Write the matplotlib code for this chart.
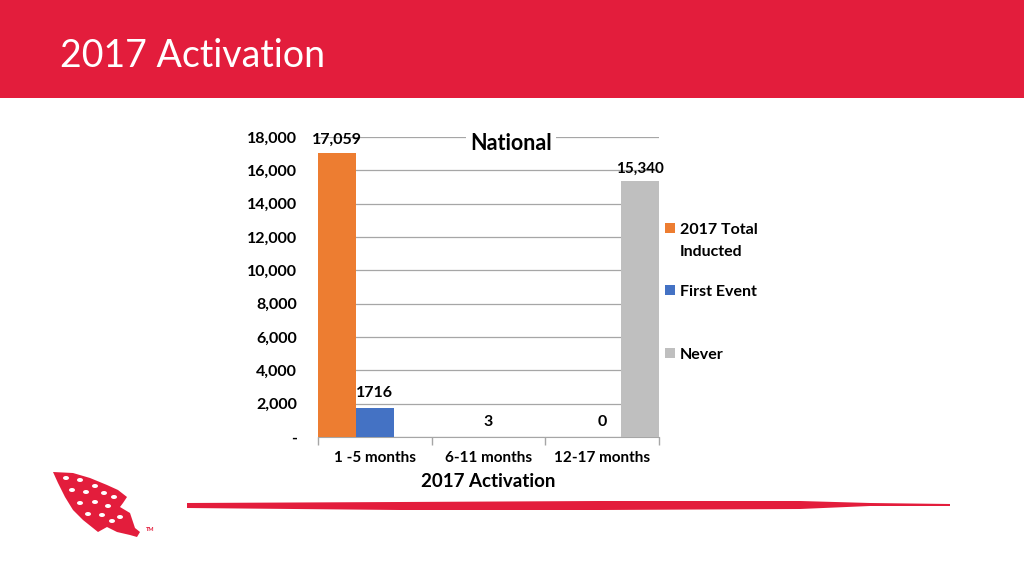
import matplotlib
matplotlib.use("Agg")
import matplotlib.pyplot as plt
from matplotlib.patches import Rectangle, Polygon, Ellipse
import numpy as np

plt.rcParams['font.family'] = ['Lato', 'DejaVu Sans']

categories = ["1 -5 months", "6-11 months", "12-17 months"]
series_names = ["2017 Total\nInducted", "First Event", "Never"]
total_inducted = [17059, 0, 0]
first_event = [1716, 3, 0]
never = [0, 0, 15340]
total_labels = ["17,059", "", ""]
first_labels = ["1716", "3", "0"]
never_labels = ["", "", "15,340"]
yticks = [0, 2000, 4000, 6000, 8000, 10000, 12000, 14000, 16000, 18000]
ytick_labels = ["-", "2,000", "4,000", "6,000", "8,000", "10,000", "12,000",
                "14,000", "16,000", "18,000"]

RED = "#E31D3C"
colors = ["#ED7D31", "#4472C4", "#BFBFBF"]

W, H = 1024, 576
fig = plt.figure(figsize=(W / 100, H / 100), dpi=100)

def px(x, y):
    # pixel coords (top-left origin) -> figure fraction
    return (x / W, 1 - y / H)

# header band
fig.patches.append(Rectangle((0, 1 - 98 / H), 1, 98 / H, transform=fig.transFigure,
                             facecolor=RED, edgecolor="none", zorder=0))
fig.text(60 / W, 1 - 56 / H, "2017 Activation", color="white", fontsize=27,
         ha="left", va="center")

# bottom brush stripe
stripe = [(187, 503), (400, 502), (600, 501), (800, 501), (870, 503), (950, 504),
          (950, 506), (870, 506), (800, 509), (600, 510), (400, 510), (187, 508)]
fig.patches.append(Polygon([px(x, y) for x, y in stripe], closed=True,
                           transform=fig.transFigure, facecolor=RED, edgecolor="none"))

# arrowhead logo (rough)
logo = [(53, 472), (73, 473), (90, 478), (107, 485), (118, 490), (127, 497),
        (123, 503), (120, 507), (125, 510), (130, 513), (135, 528), (140, 532),
        (137, 537), (130, 535), (117, 532), (107, 527), (98, 532), (93, 528),
        (83, 520), (73, 510), (65, 497), (58, 483)]
fig.patches.append(Polygon([px(x, y) for x, y in logo], closed=True,
                           transform=fig.transFigure, facecolor=RED, edgecolor="none"))
dots = [(66, 478), (80, 480), (95, 486), (72, 490), (86, 492), (104, 493),
        (114, 497), (80, 503), (95, 502), (108, 506), (88, 514), (102, 515),
        (112, 521), (120, 517)]
for x, y in dots:
    fig.patches.append(Ellipse(px(x, y), 6 / W, 4 / H, transform=fig.transFigure,
                               facecolor="white", edgecolor="none"))
fig.text(146 / W, 1 - 531 / H, "TM", fontsize=4, color=RED, fontweight="bold")

# chart
ax = fig.add_axes([318 / W, 1 - 437 / H, 341 / W, 300 / H])
x = np.arange(len(categories))
w = 1 / 3
b1 = ax.bar(x - w, total_inducted, w, color=colors[0], zorder=3)
b2 = ax.bar(x, first_event, w, color=colors[1], zorder=3)
b3 = ax.bar(x + w, never, w, color=colors[2], zorder=3)

ax.bar_label(b1, labels=total_labels, padding=4, fontsize=11.5, fontweight="bold")
ax.bar_label(b2, labels=first_labels, padding=6, fontsize=11.5, fontweight="bold")
ax.bar_label(b3, labels=never_labels, padding=4, fontsize=11, fontweight="bold")

ax.set_xlim(-0.5, 2.5)
ax.set_ylim(0, 18000)
ax.set_yticks(yticks)
ax.set_yticklabels(ytick_labels, fontsize=11.5, fontweight="bold")
ax.set_xticks(x)
ax.set_xticklabels(categories, fontsize=11, fontweight="bold")
ax.set_xticks([-0.5, 0.5, 1.5, 2.5], minor=True)
ax.tick_params(axis="x", which="major", length=0, pad=10)
ax.tick_params(axis="x", which="minor", length=6, color="#A6A6A6", width=1)
ax.tick_params(axis="y", length=0, pad=15)
ax.grid(axis="y", color="#A6A6A6", linewidth=0.9, zorder=0)
for s in ["top", "right", "left"]:
    ax.spines[s].set_visible(False)
ax.spines["bottom"].set_color("#A6A6A6")
ax.set_xlabel("2017 Activation", fontsize=13.5, fontweight="bold", labelpad=5.5)

fig.text(511 / W, 1 - 143 / H, "National", fontsize=15.5, fontweight="bold",
         ha="center", va="center",
         bbox=dict(facecolor="white", edgecolor="none", pad=3))

# legend, laid out like the slide's
legend_y = [228, 290, 353]
for name, c, y in zip(series_names, colors, legend_y):
    fig.patches.append(Rectangle(px(665, y + 5), 10 / W, 10 / H, transform=fig.transFigure,
                                 facecolor=c, edgecolor="none"))
    fig.text(680 / W, 1 - (y - 5) / H, name, fontsize=11.5, fontweight="bold",
             ha="left", va="top", linespacing=1.7)

fig.savefig("out.png", dpi=100)
